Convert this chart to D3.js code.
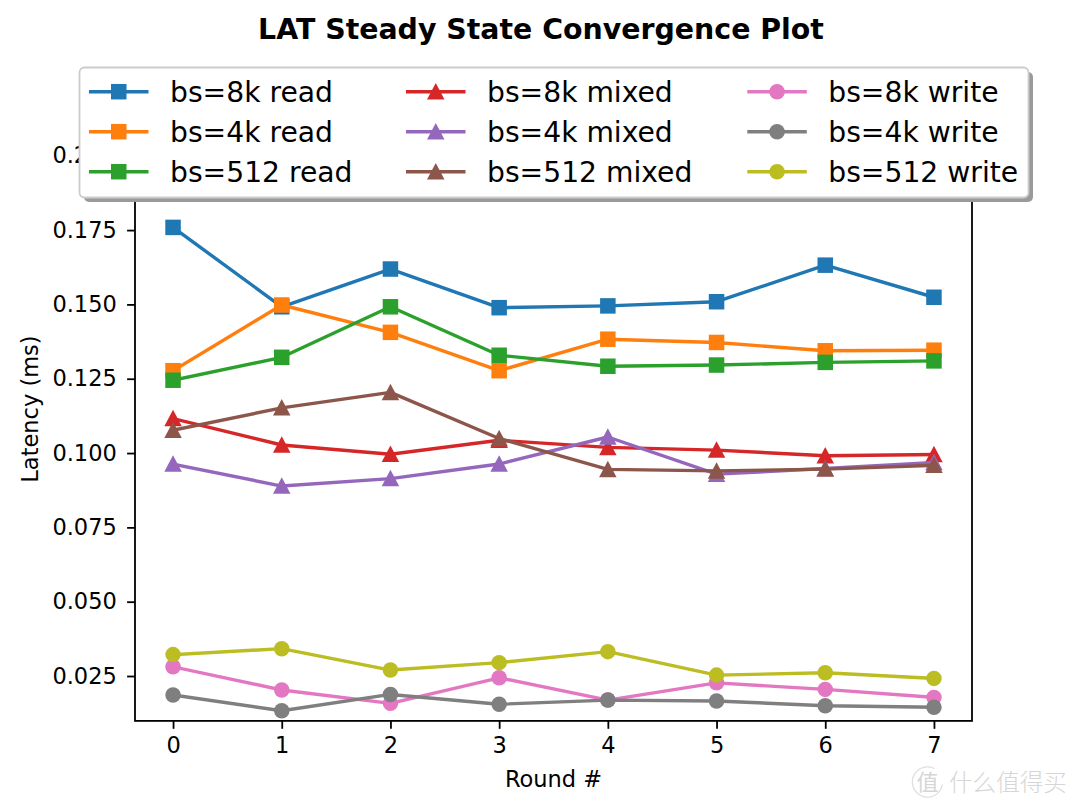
<!DOCTYPE html>
<html>
<head>
<meta charset="utf-8">
<script src="https://cdn.jsdelivr.net/npm/d3@7"></script>
<style>
html,body{margin:0;padding:0;background:#fff;}
svg{display:block;}
text{font-family:"DejaVu Sans",sans-serif;}
</style>
</head>
<body>
<svg id="chart" width="1080" height="810"></svg>
<script>
// ---- data ----
const rounds = [0, 1, 2, 3, 4, 5, 6, 7];
const seriesNames = ["bs=8k read", "bs=4k read", "bs=512 read",
                     "bs=8k mixed", "bs=4k mixed", "bs=512 mixed",
                     "bs=8k write", "bs=4k write", "bs=512 write"];
const read8k   = [0.1759, 0.1492, 0.1619, 0.1489, 0.1495, 0.1509, 0.1632, 0.1524];
const read4k   = [0.1277, 0.1498, 0.1406, 0.1277, 0.1383, 0.1372, 0.1344, 0.1346];
const read512  = [0.1245, 0.1322, 0.1492, 0.1329, 0.1292, 0.1296, 0.1305, 0.1310];
const mixed8k  = [0.1116, 0.1027, 0.0996, 0.1043, 0.1019, 0.1010, 0.0991, 0.0995];
const mixed4k  = [0.0963, 0.0889, 0.0914, 0.0963, 0.1054, 0.0929, 0.0948, 0.0968];
const mixed512 = [0.1077, 0.1152, 0.1204, 0.1049, 0.0945, 0.0940, 0.0946, 0.0959];
const write8k  = [0.0281, 0.0203, 0.0158, 0.0244, 0.0169, 0.0227, 0.0205, 0.0178];
const write4k  = [0.0186, 0.0133, 0.0188, 0.0155, 0.0169, 0.0166, 0.0150, 0.0145];
const write512 = [0.0322, 0.0342, 0.0270, 0.0295, 0.0332, 0.0253, 0.0261, 0.0242];
const seriesValues = [read8k, read4k, read512, mixed8k, mixed4k, mixed512, write8k, write4k, write512];
const markers = ["square", "square", "square", "triangle", "triangle", "triangle", "circle", "circle", "circle"];
const colors = ["#1f77b4", "#ff7f0e", "#2ca02c", "#d62728", "#9467bd", "#8c564b", "#e377c2", "#7f7f7f", "#bcbd22"];
const yTicks = [0.025, 0.050, 0.075, 0.100, 0.125, 0.150, 0.175, 0.200];
const xTicks = [0, 1, 2, 3, 4, 5, 6, 7];
const yLimits = [0.0099, 0.2197];
const xLimits = [-0.35, 7.35];
const titleText = "LAT Steady State Convergence Plot";
const xLabel = "Round #";
const yLabel = "Latency (ms)";

// ---- layout ----
const W = 1080, H = 810;
const m = {left: 135, right: 972, top: 97.2, bottom: 720.9};
const svg = d3.select("#chart");

const x = d3.scaleLinear().domain(xLimits).range([m.left, m.right]);
const y = d3.scaleLinear().domain(yLimits).range([m.bottom, m.top]);

svg.append("rect").attr("width", W).attr("height", H).attr("fill", "#fff");

svg.append("clipPath").attr("id", "clip").append("rect")
  .attr("x", m.left - 10).attr("y", m.top).attr("width", m.right - m.left + 20).attr("height", m.bottom - m.top);

// axes
const axisW = 1.8;
const xAxis = svg.append("g").attr("transform", `translate(0,${m.bottom})`)
  .call(d3.axisBottom(x).tickValues(xTicks).tickFormat(d3.format("d")).tickSize(7.9).tickPadding(7.9));
const yAxis = svg.append("g").attr("transform", `translate(${m.left},0)`)
  .call(d3.axisLeft(y).tickValues(yTicks).tickFormat(d3.format(".3f")).tickSize(7.9).tickPadding(10.3));
[xAxis, yAxis].forEach(g => {
  g.select(".domain").remove();
  g.selectAll(".tick line").attr("stroke", "#000").attr("stroke-width", axisW);
  g.selectAll(".tick text").attr("fill", "#000").style("font-size", "22.5px").style("font-family", "DejaVu Sans");
});

svg.append("rect").attr("x", m.left).attr("y", m.top)
  .attr("width", m.right - m.left).attr("height", m.bottom - m.top)
  .attr("fill", "none").attr("stroke", "#000").attr("stroke-width", axisW);

// series
const msize = 15.5;
function drawMarker(g, type, cx, cy, color, s) {
  if (type === "square") {
    g.append("rect").attr("x", cx - s / 2).attr("y", cy - s / 2).attr("width", s).attr("height", s)
      .attr("fill", color);
  } else if (type === "circle") {
    g.append("circle").attr("cx", cx).attr("cy", cy).attr("r", s / 2).attr("fill", color);
  } else {
    const h = s / 2;
    g.append("path").attr("d", `M${cx},${cy - h - 1}L${cx + h + 1},${cy + h}L${cx - h - 1},${cy + h}Z`).attr("fill", color);
  }
}

const plot = svg.append("g").attr("clip-path", "url(#clip)");
const line = d3.line().x((d, i) => x(rounds[i])).y(d => y(d));
seriesValues.forEach((vals, si) => {
  const g = plot.append("g");
  g.append("path").attr("d", line(vals)).attr("fill", "none")
    .attr("stroke", colors[si]).attr("stroke-width", 3.4).attr("stroke-linejoin", "round").attr("stroke-linecap", "square");
  vals.forEach((v, i) => drawMarker(g, markers[si], x(rounds[i]), y(v), colors[si], msize));
});

// labels
svg.append("text").attr("x", (m.left + m.right) / 2).attr("y", 787)
  .attr("text-anchor", "middle").style("font-size", "22.5px").text(xLabel);
svg.append("text").attr("transform", `translate(38,${(m.top + m.bottom) / 2}) rotate(-90)`)
  .attr("text-anchor", "middle").style("font-size", "22.5px").text(yLabel);
svg.append("text").attr("x", 541).attr("y", 38.5)
  .attr("text-anchor", "middle").style("font-size", "28.4px").style("font-weight", "bold").text(titleText);

// legend
const lg = svg.append("g");
const lb = {x: 79.5, y: 67.5, w: 949, h: 130};
lg.append("rect").attr("x", lb.x + 4.5).attr("y", lb.y + 4.5).attr("width", lb.w).attr("height", lb.h)
  .attr("rx", 5).attr("fill", "#9a9a9a");
lg.append("rect").attr("x", lb.x).attr("y", lb.y).attr("width", lb.w).attr("height", lb.h)
  .attr("rx", 5).attr("fill", "#fff").attr("stroke", "#cccccc").attr("stroke-width", 1.8);
const colX = [89, 406, 747.3];
const rowY = [91.7, 131.7, 171.7];
seriesNames.forEach((name, si) => {
  const c = Math.floor(si / 3), r = si % 3;
  const x0 = colX[c], yy = rowY[r];
  lg.append("line").attr("x1", x0).attr("x2", x0 + 59.5).attr("y1", yy).attr("y2", yy)
    .attr("stroke", colors[si]).attr("stroke-width", 3.4);
  drawMarker(lg, markers[si], x0 + 29.75, yy, colors[si], msize);
  lg.append("text").attr("x", x0 + 81).attr("y", yy).attr("dy", "0.36em")
    .style("font-size", "28.2px").text(name);
});

// watermark
const wm = svg.append("g");
wm.append("path").attr("d", d3.arc()({innerRadius: 14.5, outerRadius: 15.8, startAngle: Math.PI * 0.55, endAngle: Math.PI * 2.15}))
  .attr("transform", "translate(927.5,782)").attr("fill", "#e0e0e0");
wm.append("text").attr("x", 927.5).attr("y", 790).attr("text-anchor", "middle").attr("fill", "#d6d6d6")
  .style("font-family", "Noto Sans CJK SC").style("font-size", "22px").text("值");
wm.append("text").attr("x", 949).attr("y", 790.5).attr("fill", "#d6d6d6")
  .style("font-family", "Noto Sans CJK SC").style("font-weight", "300").style("font-size", "23.6px").text("什么值得买");
</script>
</body>
</html>
